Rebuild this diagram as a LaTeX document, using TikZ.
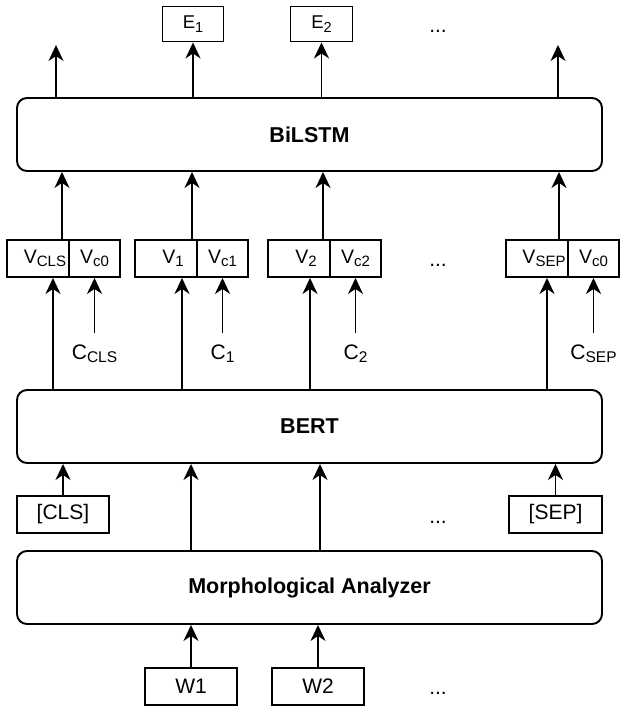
\documentclass[tikz,border=0pt]{standalone}
\usepackage{fontspec}
\setmainfont{Liberation Sans}
\usetikzlibrary{arrows.meta}
\newcommand{\lsub}[2]{\raisebox{-3.5pt}{\fontsize{#1}{#1}\selectfont #2}}
\tikzset{
  every node/.style={inner sep=0pt},
  lbl/.style={font=\fontsize{21}{24}\selectfont},
  tok/.style={draw, line width=1.9pt, minimum height=37pt, font=\fontsize{21}{24}\selectfont},
  ebox/.style={draw, line width=1.9pt, minimum height=35pt, font=\fontsize{18.5}{20}\selectfont},
  vbox/.style={draw, line width=1.9pt, minimum height=37pt, font=\fontsize{19.5}{22}\selectfont},
  clbl/.style={font=\fontsize{21}{24}\selectfont, inner ysep=11pt, anchor=base},
  layer/.style={draw, line width=1.9pt, rounded corners=10pt, minimum width=585pt, minimum height=73pt, font=\fontsize{21.5}{24}\selectfont\bfseries},
  arr/.style={line width=1.9pt, -{Stealth[length=16pt,width=15pt,inset=5pt]}},
}
\begin{document}
\begin{tikzpicture}[x=1pt,y=-1pt]
\useasboundingbox (0,0) rectangle (627,706);
% layers
\node[layer] (bilstm) at (309.5,134.5) {BiLSTM};
\node[layer] (bert) at (309.5,426.5) {BERT};
\node[layer] (morph) at (309.5,587.5) {Morphological Analyzer};
% outputs
\node[ebox, minimum width=61pt] (e1) at (193,24) {E\lsub{14.5}{1}};
\node[ebox, minimum width=62pt] (e2) at (321.5,24) {E\lsub{14.5}{2}};
\node[lbl, anchor=base] (dtop) at (438,33) {...};
\coordinate (o1) at (56,45);
\coordinate (o4) at (558,45);
\draw[arr] (bilstm.north -| o1) -- (o1);
\draw[arr] (bilstm.north -| e1) -- (e1.south);
\draw[arr] (bilstm.north -| e2) -- (e2.south);
\draw[arr] (bilstm.north -| o4) -- (o4);
% V row
\node[vbox, minimum width=62pt] (vcls) at (38,258.5) {\hspace*{14pt}V\lsub{15}{CLS}};
\node[vbox, minimum width=51pt] (vc0) at (94.5,258.5) {V\lsub{15}{c0}};
\node[vbox, minimum width=62pt] (v1) at (166,258.5) {\hspace*{14pt}V\lsub{15}{1}};
\node[vbox, minimum width=51pt] (vc1) at (222.5,258.5) {V\lsub{15}{c1}};
\node[vbox, minimum width=62pt] (v2) at (299,258.5) {\hspace*{14pt}V\lsub{15}{2}};
\node[vbox, minimum width=51pt] (vc2) at (355.5,258.5) {V\lsub{15}{c2}};
\node[vbox, minimum width=62pt] (vsep) at (537,258.5) {\hspace*{14pt}V\lsub{15}{SEP}};
\node[vbox, minimum width=51pt] (vcsep) at (593.5,258.5) {V\lsub{15}{c0}};
\node[lbl, anchor=base] (dmid) at (438,266.5) {...};
% V -> BiLSTM
\coordinate (xa1) at (62,0);
\coordinate (xa2) at (192,0);
\coordinate (xa3) at (323,0);
\coordinate (xa4) at (559,0);
\draw[arr] (vcls.north -| xa1) -- (bilstm.south -| xa1);
\draw[arr] (v1.north -| xa2) -- (bilstm.south -| xa2);
\draw[arr] (v2.north -| xa3) -- (bilstm.south -| xa3);
\draw[arr] (vsep.north -| xa4) -- (bilstm.south -| xa4);
% BERT -> V
\coordinate (xb1) at (53,0);
\coordinate (xb2) at (182,0);
\coordinate (xb3) at (310,0);
\coordinate (xb4) at (547,0);
\draw[arr] (bert.north -| xb1) -- (vcls.south -| xb1);
\draw[arr] (bert.north -| xb2) -- (v1.south -| xb2);
\draw[arr] (bert.north -| xb3) -- (v2.south -| xb3);
\draw[arr] (bert.north -| xb4) -- (vsep.south -| xb4);
% C labels
\node[clbl] (ccls) at (94.5,359) {C\lsub{15.5}{CLS}};
\node[clbl] (c1) at (222.5,359) {C\lsub{15.5}{1}};
\node[clbl] (c2) at (355.5,359) {C\lsub{15.5}{2}};
\node[clbl] (csep) at (593.5,359) {C\lsub{15.5}{SEP}};
\draw[arr] (ccls.north) -- (vc0.south);
\draw[arr] (c1.north) -- (vc1.south);
\draw[arr] (c2.north) -- (vc2.south);
\draw[arr] (csep.north) -- (vcsep.south);
% special tokens
\node[tok, minimum width=92pt] (cls) at (63,514.5) {[CLS]};
\node[tok, minimum width=93pt] (sep) at (555.5,514.5) {[SEP]};
\node[lbl, anchor=base] (dtok) at (438,523.5) {...};
\draw[arr] (cls.north) -- (bert.south -| cls.north);
\draw[arr] (sep.north) -- (bert.south -| sep.north);
\coordinate (xm1) at (191,0);
\coordinate (xm2) at (320,0);
\draw[arr] (morph.north -| xm1) -- (bert.south -| xm1);
\draw[arr] (morph.north -| xm2) -- (bert.south -| xm2);
% words
\node[tok, minimum width=92pt] (w1) at (191,686.5) {W1};
\node[tok, minimum width=92pt] (w2) at (318,686.5) {W2};
\node[lbl, anchor=base] (dw) at (438,694.5) {...};
\draw[arr] (w1.north) -- (morph.south -| w1.north);
\draw[arr] (w2.north) -- (morph.south -| w2.north);
\end{tikzpicture}
\end{document}
